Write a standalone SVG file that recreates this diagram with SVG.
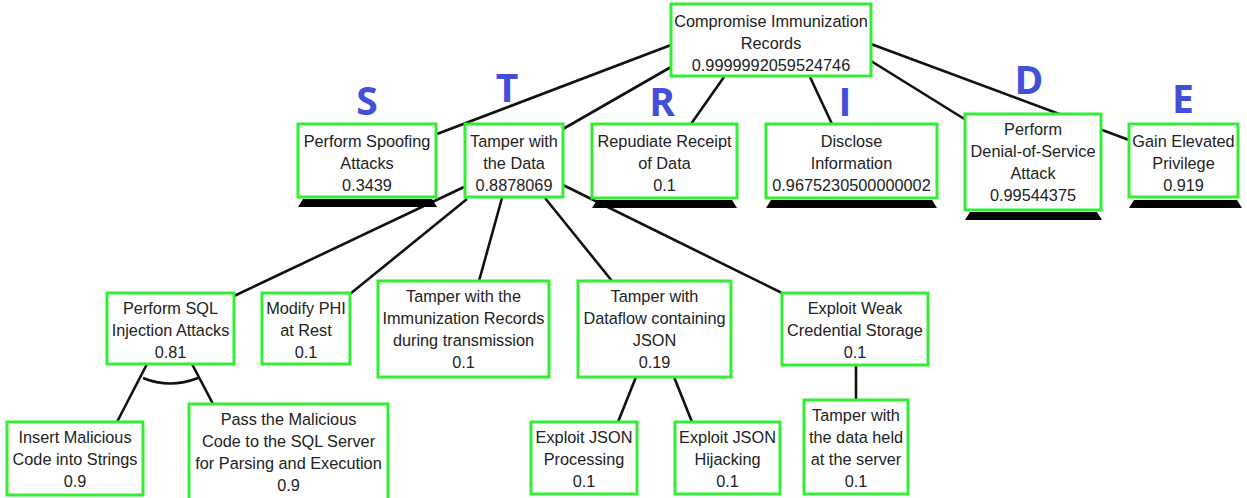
<svg xmlns="http://www.w3.org/2000/svg" width="1247" height="498" viewBox="0 0 1247 498">
<style>
.box{fill:#ffffff;stroke:#33ee33;stroke-width:3}
.t{font-family:"Liberation Sans",Arial,sans-serif;font-size:16.3px;fill:#222222;text-anchor:middle}
.edge{stroke:#111111;stroke-width:2.6;fill:none;stroke-linecap:butt}
.trap{fill:#000000}
.L{font-family:"Open Sans","DejaVu Sans",sans-serif;font-weight:bold;font-size:39px;fill:#4150d6;text-anchor:middle}
</style>
<rect width="1247" height="498" fill="#ffffff"/>
<g id="connectors">
<line class="edge" x1="671" y1="45" x2="437" y2="134"/>
<line class="edge" x1="671" y1="67" x2="563" y2="129"/>
<line class="edge" x1="724" y1="77" x2="691" y2="124"/>
<line class="edge" x1="810" y1="77" x2="832" y2="124"/>
<line class="edge" x1="871" y1="61" x2="966" y2="120"/>
<line class="edge" x1="871" y1="44" x2="1129" y2="140"/>
<line class="edge" x1="464" y1="187" x2="234" y2="296"/>
<line class="edge" x1="467" y1="199" x2="350" y2="294"/>
<line class="edge" x1="502" y1="198" x2="479" y2="281"/>
<line class="edge" x1="545" y1="198" x2="612" y2="281"/>
<line class="edge" x1="563" y1="185" x2="782" y2="293"/>
<line class="edge" x1="147" y1="364" x2="117" y2="422"/>
<line class="edge" x1="192" y1="364" x2="213" y2="404"/>
<path class="edge" d="M143,378 Q170,389 198,378"/>
<line class="edge" x1="636" y1="377" x2="618" y2="422"/>
<line class="edge" x1="674" y1="377" x2="692" y2="422"/>
<line class="edge" x1="856" y1="365" x2="856" y2="400" stroke-width="3.4"/>
</g>
<g id="letters">
<text class="L" x="367" y="115">S</text>
<text class="L" x="507" y="102">T</text>
<text class="L" x="662" y="116">R</text>
<text class="L" x="845" y="116">I</text>
<text class="L" x="1029" y="94">D</text>
<text class="L" x="1183" y="113">E</text>
</g>
<g id="n-root">
<rect class="box" x="671" y="4" width="200" height="72"/>
<text class="t" x="771" y="27">Compromise Immunization</text>
<text class="t" x="771" y="49">Records</text>
<text class="t" x="771" y="71">0.9999992059524746</text>
</g>
<g id="n-spoof">
<path class="trap" d="M303,199 L432,199 L437,207 L298,207 Z"/>
<rect class="box" x="298" y="124" width="138" height="73"/>
<text class="t" x="367" y="147">Perform Spoofing</text>
<text class="t" x="367" y="169">Attacks</text>
<text class="t" x="367" y="191">0.3439</text>
</g>
<g id="n-tamper">
<rect class="box" x="465" y="124" width="98" height="73"/>
<text class="t" x="514" y="147">Tamper with</text>
<text class="t" x="514" y="169">the Data</text>
<text class="t" x="514" y="191">0.8878069</text>
</g>
<g id="n-repud">
<path class="trap" d="M597,200 L732,200 L737,208 L592,208 Z"/>
<rect class="box" x="592" y="124" width="145" height="74"/>
<text class="t" x="664.5" y="147">Repudiate Receipt</text>
<text class="t" x="664.5" y="169">of Data</text>
<text class="t" x="664.5" y="191">0.1</text>
</g>
<g id="n-disclose">
<path class="trap" d="M771,200 L932,200 L937,208 L766,208 Z"/>
<rect class="box" x="766" y="124" width="171" height="74"/>
<text class="t" x="851.5" y="147">Disclose</text>
<text class="t" x="851.5" y="169">Information</text>
<text class="t" x="851.5" y="191">0.9675230500000002</text>
</g>
<g id="n-dos">
<path class="trap" d="M970,212 L1097,212 L1102,220 L965,220 Z"/>
<rect class="box" x="965" y="114" width="136" height="96"/>
<text class="t" x="1033" y="135">Perform</text>
<text class="t" x="1033" y="157">Denial-of-Service</text>
<text class="t" x="1033" y="179">Attack</text>
<text class="t" x="1033" y="201">0.99544375</text>
</g>
<g id="n-elev">
<path class="trap" d="M1134,200 L1237,200 L1242,208 L1129,208 Z"/>
<rect class="box" x="1129" y="124" width="109" height="73"/>
<text class="t" x="1183.5" y="147">Gain Elevated</text>
<text class="t" x="1183.5" y="169">Privilege</text>
<text class="t" x="1183.5" y="191">0.919</text>
</g>
<g id="n-sql">
<rect class="box" x="107" y="293" width="127" height="71"/>
<text class="t" x="170.5" y="314">Perform SQL</text>
<text class="t" x="170.5" y="336">Injection Attacks</text>
<text class="t" x="170.5" y="358">0.81</text>
</g>
<g id="n-phi">
<rect class="box" x="262" y="293" width="88" height="71"/>
<text class="t" x="306" y="314">Modify PHI</text>
<text class="t" x="306" y="336">at Rest</text>
<text class="t" x="306" y="358">0.1</text>
</g>
<g id="n-trans">
<rect class="box" x="378" y="281" width="171" height="96"/>
<text class="t" x="463.5" y="302">Tamper with the</text>
<text class="t" x="463.5" y="324">Immunization Records</text>
<text class="t" x="463.5" y="346">during transmission</text>
<text class="t" x="463.5" y="368">0.1</text>
</g>
<g id="n-json">
<rect class="box" x="578" y="281" width="153" height="96"/>
<text class="t" x="654.5" y="302">Tamper with</text>
<text class="t" x="654.5" y="324">Dataflow containing</text>
<text class="t" x="654.5" y="346">JSON</text>
<text class="t" x="654.5" y="368">0.19</text>
</g>
<g id="n-cred">
<rect class="box" x="782" y="293" width="146" height="72"/>
<text class="t" x="855" y="314">Exploit Weak</text>
<text class="t" x="855" y="336">Credential Storage</text>
<text class="t" x="855" y="358">0.1</text>
</g>
<g id="n-insert">
<rect class="box" x="7" y="422" width="136" height="73"/>
<text class="t" x="75" y="443">Insert Malicious</text>
<text class="t" x="75" y="465">Code into Strings</text>
<text class="t" x="75" y="487">0.9</text>
</g>
<g id="n-pass">
<rect class="box" x="189" y="404" width="199" height="96"/>
<text class="t" x="288.5" y="425">Pass the Malicious</text>
<text class="t" x="288.5" y="447">Code to the SQL Server</text>
<text class="t" x="288.5" y="469">for Parsing and Execution</text>
<text class="t" x="288.5" y="491">0.9</text>
</g>
<g id="n-jproc">
<rect class="box" x="531" y="422" width="106" height="72"/>
<text class="t" x="584" y="443">Exploit JSON</text>
<text class="t" x="584" y="465">Processing</text>
<text class="t" x="584" y="487">0.1</text>
</g>
<g id="n-jhijack">
<rect class="box" x="675" y="422" width="105" height="72"/>
<text class="t" x="727.5" y="443">Exploit JSON</text>
<text class="t" x="727.5" y="465">Hijacking</text>
<text class="t" x="727.5" y="487">0.1</text>
</g>
<g id="n-held">
<rect class="box" x="804" y="400" width="104" height="94"/>
<text class="t" x="856" y="421">Tamper with</text>
<text class="t" x="856" y="443">the data held</text>
<text class="t" x="856" y="465">at the server</text>
<text class="t" x="856" y="487">0.1</text>
</g>
</svg>
